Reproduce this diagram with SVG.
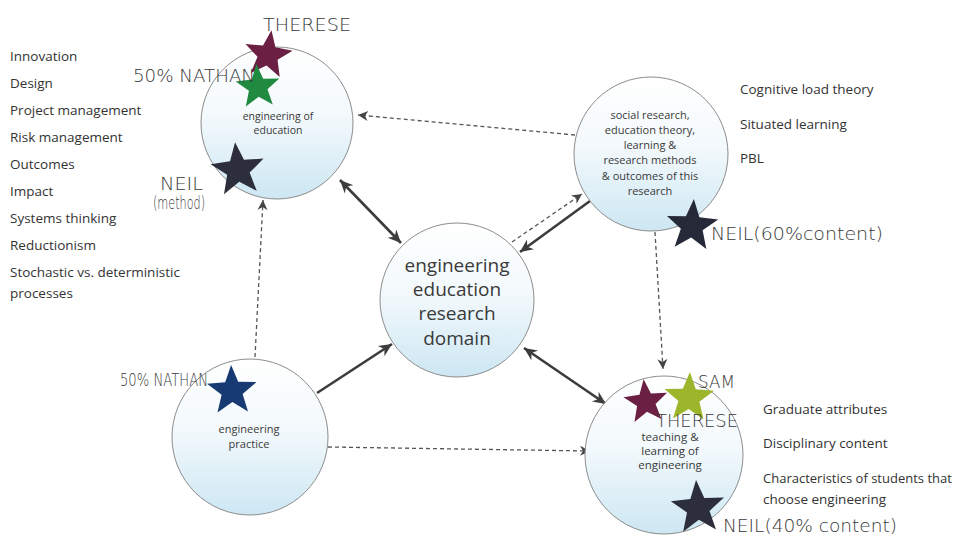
<svg xmlns="http://www.w3.org/2000/svg" xmlns:xlink="http://www.w3.org/1999/xlink" width="958" height="540" viewBox="0 0 958 540">
<style>
.node circle{fill:url(#bub);stroke:#8c8c8c;stroke-width:1}
.lbl{font-family:"Open Sans","Liberation Sans",sans-serif;fill:#3a3a3a;text-anchor:middle}
.list{font-family:"Open Sans","Liberation Sans",sans-serif;font-size:13.5px;fill:#333}
.hand{font-family:"DejaVu Sans","Liberation Sans",sans-serif;font-weight:200;fill:#383838;font-size:17px}
.solid{stroke:#3c3c3c;stroke-width:2.6;fill:none}
.dash{stroke:#555;stroke-width:1.3;stroke-dasharray:4 3;fill:none}
</style>
<defs>
<linearGradient id="bub" x1="0" y1="0" x2="0" y2="1">
<stop offset="0" stop-color="#ffffff"/>
<stop offset="0.45" stop-color="#f3f9fc"/>
<stop offset="1" stop-color="#cde7f3"/>
</linearGradient>
<marker id="ah" viewBox="-13 -7 14 14" refX="0" refY="0" markerWidth="14" markerHeight="14" markerUnits="userSpaceOnUse" orient="auto-start-reverse">
<path d="M0,0 L-13,-6 L-9,0 L-13,6 Z" fill="#3c3c3c"/>
</marker>
<marker id="ahd" viewBox="-11 -6 12 12" refX="0" refY="0" markerWidth="12" markerHeight="12" markerUnits="userSpaceOnUse" orient="auto">
<path d="M0,0 L-10,-5 L-7,0 L-10,5 Z" fill="#444"/>
</marker>
<path id="star" d="M0,-20 L5,-6.88 L19.02,-6.18 L8.08,2.63 L11.76,16.18 L0,8.5 L-11.76,16.18 L-8.08,2.63 L-19.02,-6.18 L-5,-6.88 Z"/>
</defs>
<rect width="958" height="540" fill="#ffffff"/>

<g id="connectors">
<line class="solid" x1="340" y1="180" x2="401" y2="243" marker-start="url(#ah)" marker-end="url(#ah)"/>
<line class="solid" x1="590" y1="201" x2="520" y2="252" marker-end="url(#ah)"/>
<line class="solid" x1="524" y1="348" x2="606" y2="404" marker-start="url(#ah)" marker-end="url(#ah)"/>
<line class="solid" x1="317" y1="393" x2="392" y2="344" marker-end="url(#ah)"/>
<line class="dash" x1="512" y1="242" x2="582" y2="194" marker-end="url(#ahd)"/>
<line class="dash" x1="575" y1="135" x2="358" y2="115" marker-end="url(#ahd)"/>
<line class="dash" x1="255" y1="357" x2="263" y2="200" marker-end="url(#ahd)"/>
<line class="dash" x1="655" y1="232" x2="663" y2="369" marker-end="url(#ahd)"/>
<line class="dash" x1="328" y1="447" x2="590" y2="451" marker-end="url(#ahd)"/>
</g>

<g id="node-engineering-of-education" class="node">
<circle cx="277" cy="123" r="76"/>
<text class="lbl" font-size="10.5" x="278" y="120">engineering of</text>
<text class="lbl" font-size="10.5" x="278" y="134">education</text>
</g>

<g id="node-social-research" class="node">
<circle cx="651" cy="154" r="77"/>
<text class="lbl" font-size="11" x="650" y="119">social research,</text>
<text class="lbl" font-size="11" x="650" y="134">education theory,</text>
<text class="lbl" font-size="11" x="650" y="149">learning &amp;</text>
<text class="lbl" font-size="11" x="650" y="164">research methods</text>
<text class="lbl" font-size="11" x="650" y="180">&amp; outcomes of this</text>
<text class="lbl" font-size="11" x="650" y="195">research</text>
</g>

<g id="node-domain" class="node">
<circle cx="457" cy="300" r="77"/>
<text class="lbl" font-size="19" x="457" y="272">engineering</text>
<text class="lbl" font-size="19" x="457" y="296">education</text>
<text class="lbl" font-size="19" x="457" y="320">research</text>
<text class="lbl" font-size="19" x="457" y="345">domain</text>
</g>

<g id="node-engineering-practice" class="node">
<circle cx="250" cy="437" r="78"/>
<text class="lbl" font-size="11" x="249" y="433">engineering</text>
<text class="lbl" font-size="11" x="249" y="448">practice</text>
</g>

<g id="node-teaching-learning" class="node">
<circle cx="664" cy="455" r="79"/>
<text class="lbl" font-size="11.5" x="670" y="441">teaching &amp;</text>
<text class="lbl" font-size="11.5" x="670" y="455">learning of</text>
<text class="lbl" font-size="11.5" x="670" y="469">engineering</text>
</g>

<g id="stars">
<use xlink:href="#star" fill="#6a1f43" transform="translate(268,55) rotate(8) scale(1.25)"/>
<use xlink:href="#star" fill="#1f8a40" transform="translate(258,87) rotate(-4) scale(1.15)"/>
<use xlink:href="#star" fill="#2c2f3b" transform="translate(238,170) rotate(-6) scale(1.4)"/>
<use xlink:href="#star" fill="#262a38" transform="translate(692,226) rotate(4) scale(1.35)"/>
<use xlink:href="#star" fill="#173a72" transform="translate(232,391) rotate(-2) scale(1.3)"/>
<use xlink:href="#star" fill="#6a1f43" transform="translate(646,402) rotate(-6) scale(1.15)"/>
<use xlink:href="#star" fill="#9cb62c" transform="translate(689,398) rotate(2) scale(1.3)"/>
<use xlink:href="#star" fill="#2c2f3b" transform="translate(698,508) rotate(-4) scale(1.4)"/>
</g>

<g id="handwritten">
<text class="hand" x="263" y="31" font-size="19" textLength="88" lengthAdjust="spacingAndGlyphs">THERESE</text>
<text class="hand" x="133" y="82" font-size="19" textLength="122" lengthAdjust="spacingAndGlyphs">50% NATHAN</text>
<text class="hand" x="160" y="190" font-size="16" textLength="43" lengthAdjust="spacingAndGlyphs">NEIL</text>
<text class="hand" x="153" y="209" font-size="15" textLength="52" lengthAdjust="spacingAndGlyphs">(method)</text>
<text class="hand" x="711" y="240" font-size="20" textLength="172" lengthAdjust="spacingAndGlyphs">NEIL(60%content)</text>
<text class="hand" x="120" y="386" font-size="16" textLength="88" lengthAdjust="spacingAndGlyphs">50% NATHAN</text>
<text class="hand" x="698" y="388" font-size="18" textLength="37" lengthAdjust="spacingAndGlyphs">SAM</text>
<text class="hand" x="656" y="427" textLength="82" lengthAdjust="spacingAndGlyphs">THERESE</text>
<text class="hand" x="723" y="532" font-size="20" textLength="174" lengthAdjust="spacingAndGlyphs">NEIL(40% content)</text>
</g>

<g id="list-left" class="list">
<text x="10" y="61">Innovation</text>
<text x="10" y="88">Design</text>
<text x="10" y="115">Project management</text>
<text x="10" y="142">Risk management</text>
<text x="10" y="169">Outcomes</text>
<text x="10" y="196">Impact</text>
<text x="10" y="223">Systems thinking</text>
<text x="10" y="250">Reductionism</text>
<text x="10" y="277">Stochastic vs. deterministic</text>
<text x="10" y="298">processes</text>
</g>

<g id="list-top-right" class="list">
<text x="740" y="94">Cognitive load theory</text>
<text x="740" y="129">Situated learning</text>
<text x="740" y="163">PBL</text>
</g>

<g id="list-bottom-right" class="list">
<text x="763" y="414">Graduate attributes</text>
<text x="763" y="448">Disciplinary content</text>
<text x="763" y="483" font-size="13">Characteristics of students that</text>
<text x="763" y="504">choose engineering</text>
</g>
</svg>
